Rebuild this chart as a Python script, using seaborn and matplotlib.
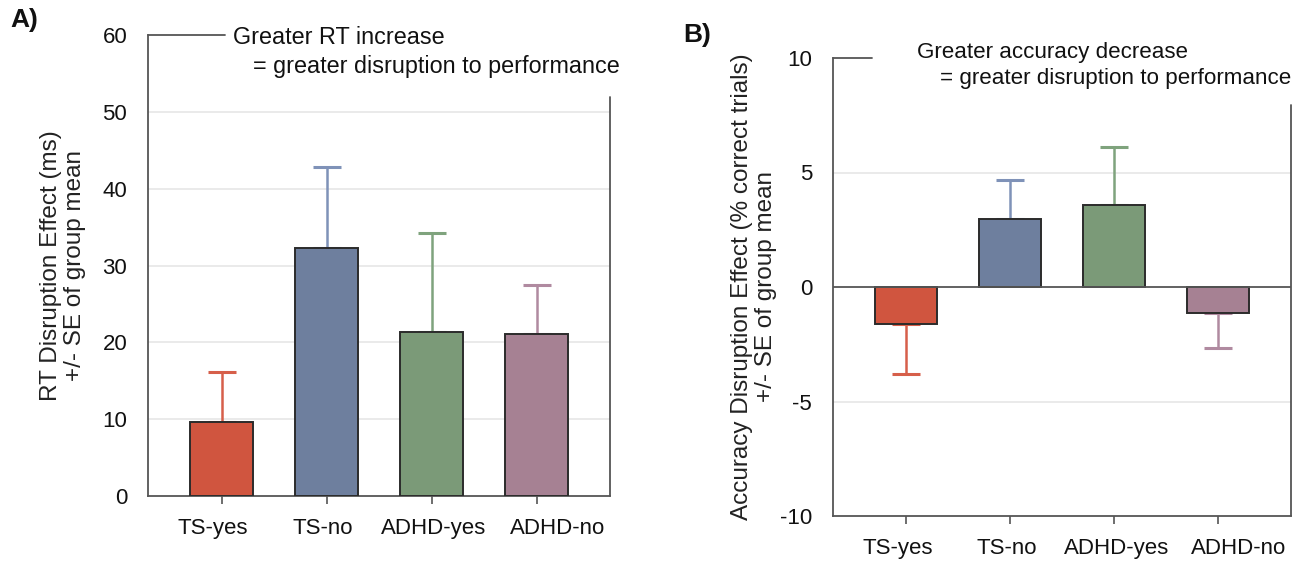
import numpy as np
import pandas as pd
import matplotlib
matplotlib.use("Agg")
import matplotlib.pyplot as plt
import matplotlib.transforms as mtransforms
import seaborn as sns

categories = ["TS-yes", "TS-no", "ADHD-yes", "ADHD-no"]
rt_means = [9.6, 32.3, 21.3, 21.05]
rt_se = [6.5, 10.5, 12.9, 6.45]
acc_means = [-1.62, 2.98, 3.57, -1.12]
acc_se = [2.19, 1.69, 2.53, 1.56]
bar_colors = ["#D0553F", "#6E7F9E", "#7B9A78", "#A68193"]
err_colors = ["#D65F4A", "#7F92B8", "#7FA37D", "#B08AA0"]
rt_ticks = [0, 10, 20, 30, 40, 50, 60]
acc_ticks = [-10, -5, 0, 5, 10]
label_shift_pt = [-6, -2.5, 1.5, 15]

sns.set_theme(style="white")
plt.rcParams["font.family"] = ["Liberation Sans", "DejaVu Sans"]

fig = plt.figure(figsize=(13.02, 5.63), dpi=100)
axA = fig.add_axes([148/1302, 67/563, 462/1302, 461/563])
axB = fig.add_axes([833/1302, 47/563, 458/1302, 458/563])

spine_col = "#555555"


def draw_panel(ax, means, se, ticks, grid_vals, ylabel, label_x, top_frac, right_frac):
    df = pd.DataFrame({"group": categories, "value": means})
    sns.barplot(data=df, x="group", y="value", hue="group", palette=bar_colors,
                order=categories, hue_order=categories, legend=False, saturation=1,
                width=0.6, edgecolor="#2b2b2b", linewidth=1.4, errorbar=None,
                ax=ax, zorder=3)
    for i, (m, s) in enumerate(zip(means, se)):
        lower = s if m < 0 else 0
        upper = s if m >= 0 else 0
        ax.errorbar(i, m, yerr=[[lower], [upper]], fmt="none", ecolor=err_colors[i],
                    elinewidth=1.8, capsize=10, capthick=2.2, zorder=2)
    ax.set_xlim(-0.7, 3.7)
    ax.set_ylim(ticks[0], ticks[-1])
    ax.set_yticks(ticks)
    ax.set_yticklabels([str(t) for t in ticks])
    for g in grid_vals:
        ax.axhline(g, color="#e6e6e6", lw=1.2, zorder=0)
    ax.set_xlabel("")
    ax.set_ylabel(ylabel, fontsize=17.5, color="#222222", linespacing=1.15)
    ax.yaxis.set_label_coords(label_x, 0.5)
    ax.tick_params(axis="both", which="both", direction="out", length=6, width=1.2,
                   color="#555555", labelsize=16, labelcolor="#111111")
    ax.tick_params(axis="y", pad=9)
    ax.tick_params(axis="x", pad=10, bottom=True)
    for lab, dx in zip(ax.get_xticklabels(), label_shift_pt):
        lab.set_transform(lab.get_transform() +
                          mtransforms.ScaledTranslation(dx/72, 0, fig.dpi_scale_trans))
    ax.spines["top"].set_visible(False)
    ax.spines["right"].set_visible(False)
    for sp in ["left", "bottom"]:
        ax.spines[sp].set_color(spine_col)
        ax.spines[sp].set_linewidth(1.3)
    ax.plot([0, top_frac], [1, 1], transform=ax.transAxes, color=spine_col, lw=1.3,
            clip_on=False, zorder=4)
    ax.plot([1, 1], [0, right_frac], transform=ax.transAxes, color=spine_col, lw=1.3,
            clip_on=False, zorder=4)


draw_panel(axA, rt_means, rt_se, rt_ticks, [10, 20, 30, 40, 50],
           "RT Disruption Effect (ms)\n+/- SE of group mean", -0.134,
           (225-148)/462, (496-97)/461)
draw_panel(axB, acc_means, acc_se, acc_ticks, [-5, 5],
           "Accuracy Disruption Effect (% correct trials)\n+/- SE of group mean", -0.122,
           (872-833)/458, (516-105)/458)
axB.axhline(0, color="#555555", lw=1.3, zorder=4)

tkA = dict(fontsize=16.8, color="#111111", va="center", ha="left", clip_on=False)
tkB = dict(fontsize=16.1, color="#111111", va="center", ha="left", clip_on=False)
axA.text((233-148)/462, (496-37)/461, "Greater RT increase", transform=axA.transAxes, **tkA)
axA.text((253-148)/462, (496-67)/461, "= greater disruption to performance", transform=axA.transAxes, **tkA)
axB.text((917-833)/458, (516-52)/458, "Greater accuracy decrease", transform=axB.transAxes, **tkB)
axB.text((940-833)/458, (516-78)/458, "= greater disruption to performance", transform=axB.transAxes, **tkB)

fig.text(10/1302, 1-20/563, "A)", fontsize=19, fontweight="bold", va="center", ha="left", color="#111111")
fig.text(683/1302, 1-35/563, "B)", fontsize=19, fontweight="bold", va="center", ha="left", color="#111111")

fig.savefig("out.png", dpi=100)
